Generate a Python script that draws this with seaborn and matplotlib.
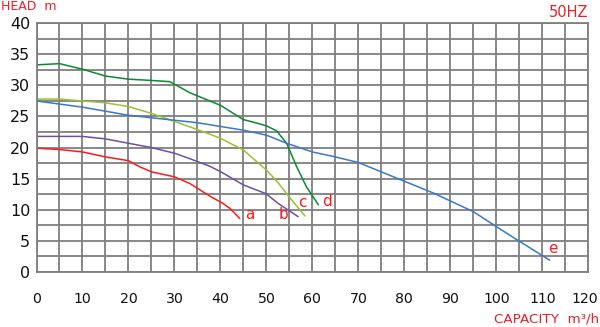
import numpy as np
import pandas as pd
import matplotlib
matplotlib.use("Agg")
import matplotlib.pyplot as plt
import matplotlib.transforms as mtransforms
import seaborn as sns

# Pump performance curves: capacity (m3/h) vs head (m)
flow_a = [0, 5, 10, 15, 20, 22.5, 25, 30, 33.4, 37.7, 40.6, 42.1, 44.2]
head_a = [19.9, 19.7, 19.3, 18.5, 17.9, 16.9, 16.1, 15.3, 14.2, 12.2, 11.0, 10.2, 8.6]

flow_b = [0, 5, 10, 15, 20, 25, 30, 33.4, 37.7, 40.1, 45, 49.9, 52.6, 56.9]
head_b = [21.8, 21.8, 21.8, 21.4, 20.7, 20.0, 19.1, 18.2, 17.0, 16.1, 14.0, 12.6, 11.0, 8.9]

flow_c = [0, 5, 10, 15, 20, 25, 30, 35, 40, 45, 50, 52.6, 54.9, 58.4]
head_c = [27.8, 27.8, 27.5, 27.2, 26.6, 25.5, 24.2, 22.9, 21.5, 19.6, 16.4, 14.3, 12.1, 9.0]

flow_d = [0, 5, 10, 15, 20, 25, 29, 33.4, 40, 45, 47.1, 50, 52.2, 54.4, 56.6, 58.7, 61.3]
head_d = [33.3, 33.5, 32.6, 31.5, 31.0, 30.8, 30.6, 28.8, 26.8, 24.5, 24.1, 23.5, 22.7, 20.7, 16.9, 13.7, 10.8]

flow_e = [0, 10, 20, 30, 35, 45, 50, 54.4, 60, 65, 70, 78.3, 86.3, 95, 100, 105.1, 111.6]
head_e = [27.5, 26.5, 25.2, 24.4, 24.0, 22.8, 22.0, 20.7, 19.3, 18.5, 17.6, 15.1, 12.7, 9.7, 7.3, 4.9, 1.9]

curve_names = ["a", "b", "c", "d", "e"]
curve_colors = ["#ff1a1a", "#6e4fa3", "#9cc031", "#0a8a30", "#3a78c8"]
label_pos = [(46.4, 9.3), (53.8, 9.3), (57.9, 11.1), (63.2, 11.4), (112.3, 3.7)]

x_major = list(range(0, 121, 10))
y_major = list(range(0, 41, 5))

frames = []
for name, fl, hd in zip(curve_names,
                        [flow_a, flow_b, flow_c, flow_d, flow_e],
                        [head_a, head_b, head_c, head_d, head_e]):
    frames.append(pd.DataFrame({"flow": fl, "head": hd, "curve": name}))
df = pd.concat(frames, ignore_index=True)

sns.set_style("white")
plt.rcParams["font.family"] = ["DejaVu Sans"]

fig = plt.figure(figsize=(6.0, 3.27), dpi=100)
ax = fig.add_axes([36.5 / 600, 1 - 272 / 327, (588.3 - 36.5) / 600, (272 - 23.2) / 327])

grid_color = "#7f7f7f"
ax.set_xlim(0, 120)
ax.set_ylim(0, 40)
ax.set_xticks(x_major)
ax.set_yticks(y_major)
ax.set_xticks(np.arange(0, 121, 5), minor=True)
ax.set_yticks(np.arange(0, 40.1, 2.5), minor=True)
ax.grid(True, which="both", color=grid_color, linewidth=1.3)
ax.set_axisbelow(True)
for sp in ax.spines.values():
    sp.set_color(grid_color)
    sp.set_linewidth(1.3)

sns.lineplot(data=df, x="flow", y="head", hue="curve", palette=dict(zip(curve_names, curve_colors)),
             sort=False, estimator=None, linewidth=1.1, legend=False, ax=ax)

for name, (lx, ly) in zip(curve_names, label_pos):
    ax.text(lx, ly, name, color="#ff1a1a", fontsize=11, ha="center", va="center")

ax.tick_params(axis="x", which="major", length=3.5, width=1.2, color=grid_color,
               labelsize=10.2, pad=11, labelcolor="#111111")
ax.tick_params(axis="y", which="major", length=0, labelsize=11.5, pad=4.5, labelcolor="#111111")
ax.tick_params(which="minor", length=0)
ax.set_xlabel("")
ax.set_ylabel("")

# keep the last capacity label inside the figure edge
last_label = ax.get_xticklabels()[-1]
last_label.set_transform(last_label.get_transform()
                         + mtransforms.ScaledTranslation(-4 / 100, 0, fig.dpi_scale_trans))

fig.text(1 / 600, 1 - 7 / 327, "HEAD  m", color="#e8202a", fontsize=9, ha="left", va="center")
fig.text(588 / 600, 1 - 12.5 / 327, "50HZ", color="#e8202a", fontsize=10.5, ha="right", va="center")
fig.text(599 / 600, 1 - 319 / 327, "CAPACITY  m³/h", color="#e8202a", fontsize=9.7, ha="right", va="center")

fig.savefig("out.png", dpi=100)
